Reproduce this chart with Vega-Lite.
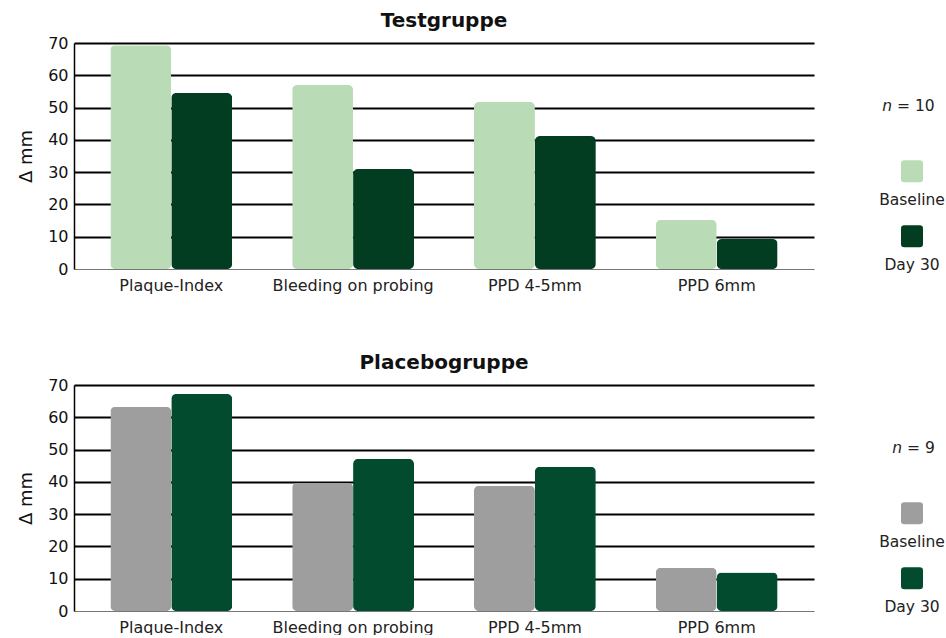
{
  "$schema": "https://vega.github.io/schema/vega-lite/v6.json",
  "padding": {"left": 17, "top": 11, "right": 0, "bottom": 0},
  "background": "white",
  "config": {
    "font": "DejaVu Sans",
    "view": {"stroke": null},
    "title": {"fontSize": 20, "fontWeight": "bold", "color": "#111", "offset": 4, "anchor": "middle"}
  },
  "datasets": {
    "bars": [
      {"group": "Testgruppe", "category": "Plaque-Index", "series": "Baseline", "value": 69.3},
      {"group": "Testgruppe", "category": "Plaque-Index", "series": "Day 30", "value": 54.5},
      {"group": "Testgruppe", "category": "Bleeding on probing", "series": "Baseline", "value": 57},
      {"group": "Testgruppe", "category": "Bleeding on probing", "series": "Day 30", "value": 31},
      {"group": "Testgruppe", "category": "PPD 4-5mm", "series": "Baseline", "value": 51.7},
      {"group": "Testgruppe", "category": "PPD 4-5mm", "series": "Day 30", "value": 41.2},
      {"group": "Testgruppe", "category": "PPD 6mm", "series": "Baseline", "value": 15.2},
      {"group": "Testgruppe", "category": "PPD 6mm", "series": "Day 30", "value": 9.3},
      {"group": "Placebogruppe", "category": "Plaque-Index", "series": "Baseline", "value": 63.3},
      {"group": "Placebogruppe", "category": "Plaque-Index", "series": "Day 30", "value": 67.2},
      {"group": "Placebogruppe", "category": "Bleeding on probing", "series": "Baseline", "value": 39.7},
      {"group": "Placebogruppe", "category": "Bleeding on probing", "series": "Day 30", "value": 47.1},
      {"group": "Placebogruppe", "category": "PPD 4-5mm", "series": "Baseline", "value": 38.8},
      {"group": "Placebogruppe", "category": "PPD 4-5mm", "series": "Day 30", "value": 44.7},
      {"group": "Placebogruppe", "category": "PPD 6mm", "series": "Baseline", "value": 13.4},
      {"group": "Placebogruppe", "category": "PPD 6mm", "series": "Day 30", "value": 11.9}
    ],
    "legendItems": [
      {"key": "Baseline"},
      {"key": "Day 30"}
    ],
    "nTest": [{"key": "n", "sym": "n", "num": "= 10"}],
    "nPlacebo": [{"key": "n", "sym": "n", "num": "= 9"}]
  },
  "spacing": 60,
  "resolve": {"scale": {"color": "independent", "x": "independent", "y": "independent"}},
  "vconcat": [
    {
      "spacing": 64,
      "resolve": {"scale": {"x": "independent", "y": "independent", "color": "independent"}},
      "hconcat": [
        {
          "width": 740,
          "height": 226,
          "title": {"text": "Testgruppe"},
          "data": {"name": "bars"},
          "transform": [{"filter": "datum.group === 'Testgruppe'"}],
          "encoding": {
            "x": {
              "field": "category", "type": "nominal",
              "sort": ["Plaque-Index", "Bleeding on probing", "PPD 4-5mm", "PPD 6mm"],
              "scale": {"paddingInner": 0.33, "paddingOuter": 0.2},
              "axis": {"title": null, "labelAngle": 0, "ticks": false, "domain": false, "grid": false, "labelPadding": 8, "labelFontSize": 16, "labelColor": "#222"}
            },
            "xOffset": {"field": "series", "type": "nominal", "sort": ["Baseline", "Day 30"], "scale": {"paddingInner": 0, "paddingOuter": 0}},
            "y": {
              "field": "value", "type": "quantitative",
              "scale": {"domain": [0, 70], "nice": false},
              "axis": {
                "title": "Δ mm", "values": [0, 10, 20, 30, 40, 50, 60, 70], "ticks": false, "grid": true,
                "gridColor": {"condition": {"test": "datum.value === 0", "value": "#777"}, "value": "#000"},
                "gridWidth": {"condition": {"test": "datum.value === 0", "value": 1.2}, "value": 2.2},
                "domain": true, "domainColor": "#000", "domainWidth": 1.5,
                "labelFontSize": 16, "labelPadding": 6, "labelColor": "#111",
                "titleFontSize": 18, "titleFontWeight": "normal", "titlePadding": 12, "titleColor": "#111"
              }
            },
            "color": {"field": "series", "type": "nominal", "scale": {"domain": ["Baseline", "Day 30"], "range": ["#b9dbb6", "#023d22"]}, "legend": null}
          },
          "mark": {"type": "bar", "cornerRadius": 5}
        },
        {
          "width": 68,
          "height": 226,
          "layer": [
            {
              "data": {"name": "legendItems"},
              "mark": {"type": "point", "shape": "M-0.7,-1H0.7Q1,-1,1,-0.7V0.7Q1,1,0.7,1H-0.7Q-1,1,-1,0.7V-0.7Q-1,-1,-0.7,-1Z", "size": 484, "filled": true, "opacity": 1},
              "encoding": {
                "y": {"field": "key", "type": "nominal", "scale": {"type": "point", "domain": ["n", "Baseline", "Day 30"], "padding": 0.738, "align": 0.66}, "axis": null},
                "color": {"field": "key", "type": "nominal", "scale": {"domain": ["Baseline", "Day 30"], "range": ["#b9dbb6", "#023d22"]}, "legend": null}
              }
            },
            {
              "data": {"name": "legendItems"},
              "mark": {"type": "text", "dy": 29, "fontSize": 15.5, "color": "#222"},
              "encoding": {
                "y": {"field": "key", "type": "nominal"},
                "text": {"field": "key"}
              }
            },
            {
              "data": {"name": "nTest"},
              "mark": {"type": "text", "fontStyle": "italic", "align": "right", "dx": -20, "fontSize": 15.5, "color": "#222"},
              "encoding": {"y": {"field": "key", "type": "nominal"}, "text": {"field": "sym"}}
            },
            {
              "data": {"name": "nTest"},
              "mark": {"type": "text", "align": "left", "dx": -15, "fontSize": 15.5, "color": "#222"},
              "encoding": {"y": {"field": "key", "type": "nominal"}, "text": {"field": "num"}}
            }
          ]
        }
      ]
    },
    {
      "spacing": 64,
      "resolve": {"scale": {"x": "independent", "y": "independent", "color": "independent"}},
      "hconcat": [
        {
          "width": 740,
          "height": 226,
          "title": {"text": "Placebogruppe"},
          "data": {"name": "bars"},
          "transform": [{"filter": "datum.group === 'Placebogruppe'"}],
          "encoding": {
            "x": {
              "field": "category", "type": "nominal",
              "sort": ["Plaque-Index", "Bleeding on probing", "PPD 4-5mm", "PPD 6mm"],
              "scale": {"paddingInner": 0.33, "paddingOuter": 0.2},
              "axis": {"title": null, "labelAngle": 0, "ticks": false, "domain": false, "grid": false, "labelPadding": 8, "labelFontSize": 16, "labelColor": "#222"}
            },
            "xOffset": {"field": "series", "type": "nominal", "sort": ["Baseline", "Day 30"], "scale": {"paddingInner": 0, "paddingOuter": 0}},
            "y": {
              "field": "value", "type": "quantitative",
              "scale": {"domain": [0, 70], "nice": false},
              "axis": {
                "title": "Δ mm", "values": [0, 10, 20, 30, 40, 50, 60, 70], "ticks": false, "grid": true,
                "gridColor": {"condition": {"test": "datum.value === 0", "value": "#777"}, "value": "#000"},
                "gridWidth": {"condition": {"test": "datum.value === 0", "value": 1.2}, "value": 2.2},
                "domain": true, "domainColor": "#000", "domainWidth": 1.5,
                "labelFontSize": 16, "labelPadding": 6, "labelColor": "#111",
                "titleFontSize": 18, "titleFontWeight": "normal", "titlePadding": 12, "titleColor": "#111"
              }
            },
            "color": {"field": "series", "type": "nominal", "scale": {"domain": ["Baseline", "Day 30"], "range": ["#9d9e9d", "#024b2e"]}, "legend": null}
          },
          "mark": {"type": "bar", "cornerRadius": 5}
        },
        {
          "width": 68,
          "height": 226,
          "layer": [
            {
              "data": {"name": "legendItems"},
              "mark": {"type": "point", "shape": "M-0.7,-1H0.7Q1,-1,1,-0.7V0.7Q1,1,0.7,1H-0.7Q-1,1,-1,0.7V-0.7Q-1,-1,-0.7,-1Z", "size": 484, "filled": true, "opacity": 1},
              "encoding": {
                "y": {"field": "key", "type": "nominal", "scale": {"type": "point", "domain": ["n", "Baseline", "Day 30"], "padding": 0.738, "align": 0.66}, "axis": null},
                "color": {"field": "key", "type": "nominal", "scale": {"domain": ["Baseline", "Day 30"], "range": ["#9d9e9d", "#024b2e"]}, "legend": null}
              }
            },
            {
              "data": {"name": "legendItems"},
              "mark": {"type": "text", "dy": 29, "fontSize": 15.5, "color": "#222"},
              "encoding": {
                "y": {"field": "key", "type": "nominal"},
                "text": {"field": "key"}
              }
            },
            {
              "data": {"name": "nPlacebo"},
              "mark": {"type": "text", "fontStyle": "italic", "align": "right", "dx": -10, "fontSize": 15.5, "color": "#222"},
              "encoding": {"y": {"field": "key", "type": "nominal"}, "text": {"field": "sym"}}
            },
            {
              "data": {"name": "nPlacebo"},
              "mark": {"type": "text", "align": "left", "dx": -5, "fontSize": 15.5, "color": "#222"},
              "encoding": {"y": {"field": "key", "type": "nominal"}, "text": {"field": "num"}}
            }
          ]
        }
      ]
    }
  ]
}
